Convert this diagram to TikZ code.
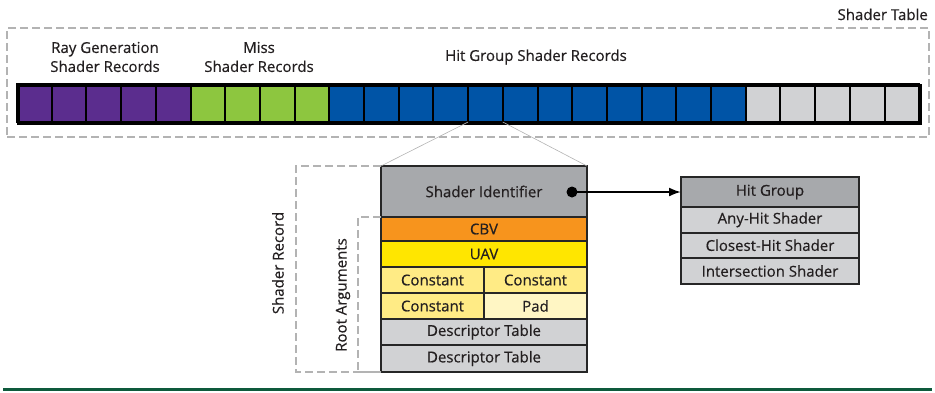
\documentclass[tikz,border=0pt]{standalone}
\usepackage{fontspec}
\setmainfont{Open Sans}[FakeBold=0.5]
\usetikzlibrary{arrows.meta}
\definecolor{purp}{HTML}{5B2D8E}
\definecolor{grn}{HTML}{8DC63F}
\definecolor{blu}{HTML}{0054A6}
\definecolor{lgray}{HTML}{D1D2D4}
\definecolor{mgray}{HTML}{A7A9AC}
\definecolor{dashg}{HTML}{B3B3B3}
\definecolor{orng}{HTML}{F7941D}
\definecolor{yel}{HTML}{FFE600}
\definecolor{lyel}{HTML}{FFEB85}
\definecolor{pyel}{HTML}{FFF6C4}
\definecolor{dgreen}{HTML}{0E5A3C}
\definecolor{txt}{HTML}{231F20}
\tikzset{
  cell/.style={draw=black, line width=2pt, minimum width=34.7pt, minimum height=38pt, inner sep=0pt, outer sep=0pt},
  row/.style={draw=black!85, line width=2pt, inner sep=0pt, outer sep=0pt, anchor=north west, text=txt, font=\fontsize{15}{16}\selectfont},
  dashbr/.style={draw=dashg, line width=2pt, dash pattern=on 8pt off 4pt},
  lbl/.style={font=\fontsize{15}{19}\selectfont, text=txt, align=center, inner sep=0pt},
  thinl/.style={draw=dashg, line width=0.6pt}
}
\begin{document}
\begin{tikzpicture}[x=1pt,y=-1pt]
\useasboundingbox (0,0) rectangle (935,392);
% shader table frame
\node[dashbr, minimum width=922pt, minimum height=109pt, anchor=north west, inner sep=0pt] (tbl) at (6,27) {};
\node[lbl, anchor=base east] (tbltxt) at (928,20) {Shader Table};
% labels
\node[lbl] (rglbl) at (105,57) {Ray Generation\\Shader Records};
\node[lbl] (mslbl) at (259,57) {Miss\\Shader Records};
\node[lbl] (hglbl) at (536,57) {Hit Group Shader Records};
% cells
\foreach \i/\c in {0/purp,1/purp,2/purp,3/purp,4/purp,5/grn,6/grn,7/grn,8/grn,9/blu,10/blu,11/blu,12/blu,13/blu,14/blu,15/blu,16/blu,17/blu,18/blu,19/blu,20/blu,21/lgray,22/lgray,23/lgray,24/lgray,25/lgray}
  \node[cell, fill=\c] (c\i) at ({17+34.7*(\i+0.5)},103) {};
\node[draw=black, line width=2.5pt, minimum width=902.2pt, minimum height=38pt, anchor=north west, inner sep=0pt] (bar) at (17,84) {};
% shader record
\node[row, fill=mgray, minimum width=206pt, minimum height=51pt] (sid) at (381,166) {Shader Identifier};
\node[row, fill=orng, minimum width=206pt, minimum height=24pt] (cbv) at (381,217) {CBV};
\node[row, fill=yel, minimum width=206pt, minimum height=26pt] (uav) at (381,241) {UAV};
\node[row, fill=lyel, minimum width=103pt, minimum height=26pt] (k1) at (381,267) {Constant};
\node[row, fill=lyel, minimum width=103pt, minimum height=26pt] (k2) at (484,267) {Constant};
\node[row, fill=lyel, minimum width=103pt, minimum height=26pt] (k3) at (381,293) {Constant};
\node[row, fill=pyel, minimum width=103pt, minimum height=26pt] (pad) at (484,293) {Pad};
\node[row, fill=lgray, minimum width=206pt, minimum height=26pt] (dt1) at (381,319) {Descriptor Table};
\node[row, fill=lgray, minimum width=206pt, minimum height=27pt] (dt2) at (381,345) {Descriptor Table};
% zoom lines
\draw[thinl] (c13.south west) -- (sid.north west);
\draw[thinl] (c13.south east) -- (sid.north east);
% brackets
\coordinate (sr1) at (296,166);
\coordinate (sr2) at (296,372);
\coordinate (ra1) at (358,217);
\coordinate (ra2) at (358,372);
\draw[dashbr] (sid.north west) -- (sr1) -- (sr2) -- (dt2.south west);
\draw[dashbr] (cbv.north west) -- (ra1) -- (ra2) -- (dt2.south west);
\node[lbl, rotate=90] (srlbl) at (278,263) {Shader Record};
\node[lbl, rotate=90] (ralbl) at (343,295) {Root Arguments};
% hit group
\node[row, fill=mgray, minimum width=178pt, minimum height=30pt] (hg) at (681,177) {Hit Group};
\node[row, fill=lgray, minimum width=178pt, minimum height=25.5pt] (ah) at (681,207) {Any-Hit Shader};
\node[row, fill=lgray, minimum width=178pt, minimum height=25.5pt] (ch) at (681,232.5) {Closest-Hit Shader};
\node[row, fill=lgray, minimum width=178pt, minimum height=26pt] (is) at (681,258) {Intersection Shader};
% arrow
\node[circle, fill=black, minimum size=11pt, inner sep=0pt] (dot) at (572,192) {};
\draw[line width=2pt, -{Latex[length=12pt,width=9pt]}] (dot.center) -- (hg.west |- dot.center);
% bottom rule
\coordinate (bl) at (3,389);
\coordinate (br) at (932,389);
\draw[dgreen, line width=3pt] (bl) -- (br);
\end{tikzpicture}
\end{document}
